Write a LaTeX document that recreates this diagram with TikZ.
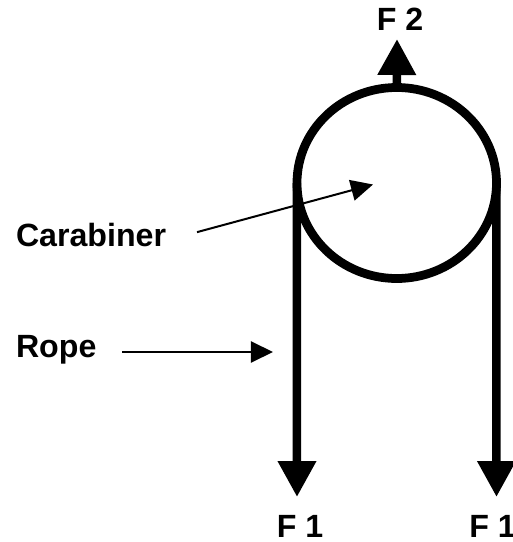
\documentclass[tikz,border=0pt]{standalone}
\usepackage{fontspec}
\setmainfont{Liberation Sans}
\usetikzlibrary{arrows.meta,shapes.geometric}

\begin{document}
\begin{tikzpicture}[
  x=1cm,y=1cm,
  ring/.style={ellipse,draw=black,line width=0.175cm,inner sep=0pt,outer sep=0pt,minimum width=3.99cm,minimum height=3.82cm},
  force/.style={draw=black,line width=0.17cm,-{Triangle[length=0.72cm,width=0.73cm]}},
  pointer/.style={draw=black,line width=0.04cm,-{Triangle[length=0.44cm,width=0.42cm]}},
  lbl/.style={font=\fontsize{18.3}{20}\selectfont\bfseries,inner sep=0pt,outer sep=0pt}
]
  \useasboundingbox (0,0) rectangle (10.26,10.84);

  % Carabiner
  \node[ring] (carabiner) at (7.935,7.18) {};

  % Free ends
  \coordinate (leftend) at (5.94,0.90);
  \coordinate (rightend) at (9.93,0.90);
  \coordinate (topend) at (7.94,10.06);
  \coordinate (carabinertip) at (7.46,7.15);
  \coordinate (ropetip) at (5.46,3.80);

  % Labels
  \node[lbl,anchor=base] (f2) at (8.00,10.24) {F 2};
  \node[lbl,anchor=base] (f1left) at (6.00,0.08) {F 1};
  \node[lbl,anchor=base] (f1right) at (9.85,0.08) {F 1};
  \node[lbl,anchor=base west] (carabinerlabel) at (0.32,5.92) {Carabiner};
  \node[lbl,anchor=base west] (ropelabel) at (0.32,3.70) {Rope};

  % Rope and forces
  \draw[force] (carabiner.west) -- (leftend);
  \draw[force] (carabiner.east) -- (rightend);
  \draw[force] (carabiner.north) -- (topend);

  % Pointers
  \draw[pointer,shorten <=0.64cm] ([yshift=-0.12cm]carabinerlabel.east) -- (carabinertip);
  \draw[pointer,shorten <=0.52cm] (ropelabel.east |- ropetip) -- (ropetip);
\end{tikzpicture}
\end{document}
